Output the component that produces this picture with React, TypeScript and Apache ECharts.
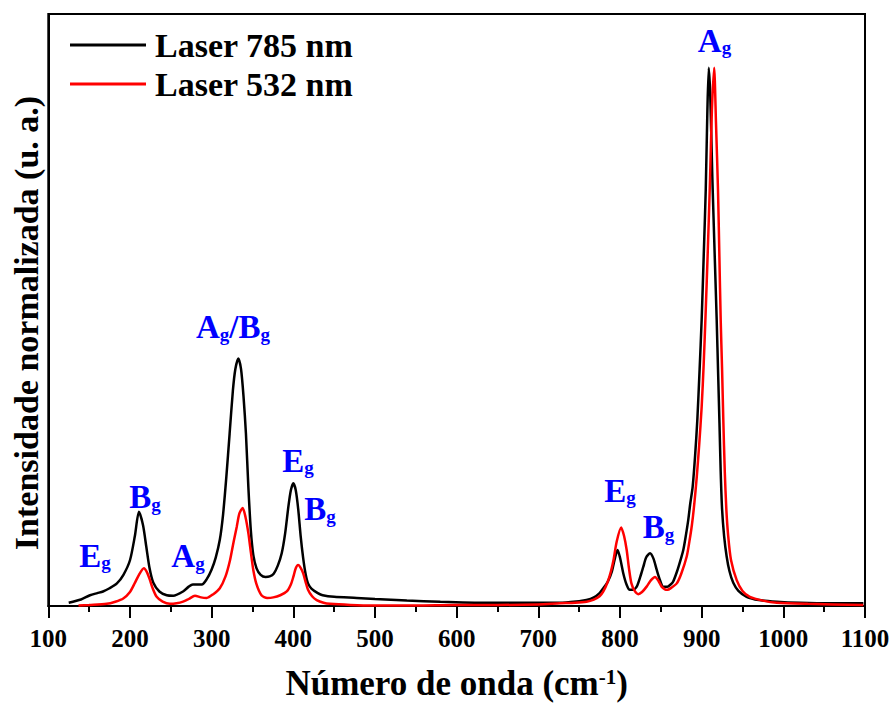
import React, { useEffect, useRef } from 'react';
import * as echarts from 'echarts';

// Raman spectra, normalized intensity (main peak = 1)
const laser785X = [125, 140, 151, 160, 167, 175, 184, 192, 200, 206, 211, 216, 220, 224, 228.6, 236, 245, 253, 265, 272, 277, 288, 294, 300, 305, 310, 314, 318, 322, 326, 329, 332.7, 336, 339, 342, 345, 348, 351, 355, 360, 366, 371, 376, 381, 385.8, 390, 394, 397, 400, 403, 406, 409, 412, 415, 418, 422.5, 430, 436, 450, 477.6, 500, 539, 580, 641, 700, 726.5, 750, 759, 768, 775, 779.6, 785, 790, 794, 797, 800, 804, 808, 812, 816, 820.5, 825, 828.6, 832, 836.8, 841, 845, 849, 853, 858, 862, 865, 870, 875, 877.5, 880, 883.6, 886, 889, 892, 894.7, 897.5, 900, 902.5, 905, 907, 908.7, 910.5, 913, 916, 918.4, 920.2, 921.8, 923.3, 925, 927.5, 930.6, 934, 938.7, 945, 955, 970, 991.8, 1020, 1060, 1098];
const laser785Y = [0.006, 0.012, 0.02, 0.024, 0.027, 0.033, 0.042, 0.058, 0.085, 0.13, 0.175, 0.15, 0.11, 0.07, 0.043, 0.027, 0.02, 0.019, 0.027, 0.036, 0.04, 0.04, 0.05, 0.068, 0.09, 0.123, 0.17, 0.24, 0.32, 0.4, 0.44, 0.46, 0.44, 0.39, 0.32, 0.22, 0.14, 0.095, 0.07, 0.058, 0.054, 0.055, 0.06, 0.075, 0.098, 0.135, 0.185, 0.215, 0.228, 0.215, 0.18, 0.13, 0.09, 0.06, 0.042, 0.032, 0.024, 0.02, 0.017, 0.015, 0.013, 0.01, 0.008, 0.006, 0.006, 0.006, 0.009, 0.011, 0.016, 0.024, 0.033, 0.045, 0.064, 0.09, 0.104, 0.09, 0.061, 0.04, 0.03, 0.03, 0.036, 0.055, 0.073, 0.09, 0.098, 0.088, 0.067, 0.048, 0.036, 0.036, 0.04, 0.045, 0.065, 0.09, 0.104, 0.125, 0.16, 0.19, 0.222, 0.28, 0.346, 0.44, 0.532, 0.65, 0.773, 0.92, 1.0, 0.95, 0.8, 0.65, 0.532, 0.43, 0.34, 0.25, 0.18, 0.13, 0.092, 0.065, 0.043, 0.028, 0.017, 0.011, 0.008, 0.006, 0.005, 0.005];

const laser532X = [137, 150, 171.5, 182, 191.8, 200, 206, 211, 217, 221, 224.5, 228, 232.7, 240, 249, 257, 265, 272, 279.6, 287, 294, 302, 310, 317, 322.5, 327, 330.7, 334, 338, 341.5, 345, 348, 351, 355, 361, 368, 375.5, 384, 392, 397, 400, 403, 406, 409, 412, 415, 418, 423, 428.6, 437, 445, 470, 497.6, 550, 600, 650, 700, 726.5, 745, 759, 768, 775, 779.6, 785, 789, 792, 796, 801.4, 805, 808.2, 811, 814, 818, 822.4, 827, 832.6, 838, 842.9, 847, 851, 855, 858, 863, 869.5, 875, 881.7, 885, 888, 891, 894, 897, 900, 902.5, 905, 907.5, 910.2, 912.5, 915.3, 917.5, 920, 921.7, 923.3, 925, 926.5, 928.3, 930.2, 932.5, 936, 942.9, 950, 959, 975, 992, 1030, 1098];
const laser532Y = [0.001, 0.002, 0.004, 0.008, 0.014, 0.026, 0.043, 0.058, 0.07, 0.062, 0.048, 0.032, 0.017, 0.008, 0.004, 0.005, 0.008, 0.013, 0.019, 0.016, 0.015, 0.022, 0.033, 0.055, 0.085, 0.12, 0.147, 0.172, 0.182, 0.165, 0.135, 0.1, 0.067, 0.04, 0.02, 0.015, 0.016, 0.02, 0.027, 0.04, 0.054, 0.07, 0.076, 0.071, 0.061, 0.045, 0.03, 0.018, 0.011, 0.006, 0.004, 0.002, 0.001, 0.001, 0.002, 0.002, 0.003, 0.005, 0.006, 0.008, 0.012, 0.018, 0.027, 0.045, 0.065, 0.085, 0.12, 0.146, 0.13, 0.104, 0.07, 0.042, 0.028, 0.022, 0.026, 0.036, 0.048, 0.054, 0.047, 0.036, 0.031, 0.03, 0.034, 0.042, 0.06, 0.092, 0.12, 0.15, 0.19, 0.24, 0.3, 0.37, 0.45, 0.55, 0.66, 0.79, 0.92, 1.0, 0.9, 0.773, 0.65, 0.532, 0.44, 0.346, 0.25, 0.18, 0.13, 0.085, 0.048, 0.028, 0.017, 0.01, 0.006, 0.004, 0.002];

// Peak assignments (label position in data coordinates)
const peakLabels = ['E_g', 'B_g', 'A_g', 'A_g/B_g', 'E_g', 'B_g', 'E_g', 'B_g', 'A_g'];
const peakLabelX = [157.2, 218.4, 271.1, 326.2, 405.8, 432.7, 800, 847.2, 915.7];
const peakLabelY = [0.093, 0.2017, 0.092, 0.5177, 0.2695, 0.18, 0.2138, 0.146, 1.05];

const xTicks = { min: 100, max: 1100, interval: 100 };
const seriesNames = ['Laser 785 nm', 'Laser 532 nm'];
const FONT = '"Liberation Serif", "Times New Roman", serif';
const BLUE = '#0000ff';

function zip(xs: number[], ys: number[]) {
  return xs.map((x, i) => [x, ys[i]]);
}

function toRich(label: string) {
  return label
    .split('/')
    .map((part) => {
      const [main, sub] = part.split('_');
      return `{m|${main}}` + (sub ? `{s|${sub}}` : '');
    })
    .join('{m|/}');
}

export default function App() {
  const ref = useRef<HTMLDivElement>(null);
  useEffect(() => {
    const chart = echarts.init(ref.current!, null, { renderer: 'svg' });
    chart.setOption({
      animation: false,
      backgroundColor: '#fff',
      grid: {
        left: 48.3,
        right: 28,
        top: 14,
        bottom: 100,
        show: true,
        borderColor: '#000',
        borderWidth: 2,
        backgroundColor: 'transparent',
      },
      legend: {
        data: seriesNames,
        orient: 'vertical',
        left: 70,
        top: 28,
        padding: 0,
        itemGap: 5,
        itemWidth: 76,
        itemHeight: 14,
        icon: 'path://M0,0 L76,0 L76,3 L0,3 Z',
        selectedMode: false,
        textStyle: {
          fontFamily: FONT,
          fontWeight: 'bold',
          fontSize: 34,
          color: '#000',
          padding: [0, 0, 0, 4],
        },
      },
      xAxis: {
        type: 'value',
        min: xTicks.min,
        max: xTicks.max,
        interval: xTicks.interval,
        name: '{t|Número de onda (cm}{p|-1}{t|)}',
        nameLocation: 'middle',
        nameGap: 60,
        nameTextStyle: {
          rich: {
            t: { fontFamily: FONT, fontWeight: 'bold', fontSize: 35, color: '#000', lineHeight: 35, verticalAlign: 'bottom' },
            p: { fontFamily: FONT, fontWeight: 'bold', fontSize: 21, color: '#000', lineHeight: 21, verticalAlign: 'top' },
          },
        },
        axisLine: { show: true, lineStyle: { color: '#000', width: 2 } },
        axisTick: { show: true, length: 12, lineStyle: { color: '#000', width: 2 } },
        minorTick: { show: true, splitNumber: 2, length: 6, lineStyle: { color: '#000', width: 2 } },
        splitLine: { show: false },
        axisLabel: {
          margin: 20,
          fontFamily: FONT,
          fontWeight: 'bold',
          fontSize: 25,
          color: '#000',
          formatter: (v: number) => String(v),
        },
      },
      yAxis: {
        type: 'value',
        min: 0,
        max: 1.1,
        axisLine: { show: true, lineStyle: { color: '#000', width: 2 } },
        axisTick: { show: false },
        axisLabel: { show: false },
        splitLine: { show: false },
      },
      graphic: [
        {
          type: 'text',
          x: 26,
          y: 323,
          rotation: Math.PI / 2,
          style: {
            text: 'Intensidade normalizada (u. a.)',
            fontFamily: FONT,
            fontWeight: 'bold',
            fontSize: 34,
            fill: '#000',
            align: 'center',
            verticalAlign: 'middle',
          },
        },
      ],
      series: [
        {
          name: seriesNames[0],
          type: 'line',
          data: zip(laser785X, laser785Y),
          showSymbol: false,
          symbol: 'none',
          smooth: 0.25,
          lineStyle: { color: '#000', width: 2.5 },
          itemStyle: { color: '#000' },
          z: 2,
        },
        {
          name: seriesNames[1],
          type: 'line',
          data: zip(laser532X, laser532Y),
          showSymbol: false,
          symbol: 'none',
          smooth: 0.25,
          lineStyle: { color: '#ff0000', width: 2.5 },
          itemStyle: { color: '#ff0000' },
          z: 3,
        },
        {
          name: 'peaks',
          type: 'scatter',
          silent: true,
          symbolSize: 0,
          itemStyle: { color: BLUE, opacity: 1 },
          z: 5,
          data: peakLabels.map((lab, i) => ({
            value: [peakLabelX[i], peakLabelY[i]],
            label: {
              show: true,
              position: 'inside',
              color: BLUE,
              opacity: 1,
              textBorderWidth: 0,
              textBorderColor: 'transparent',
              formatter: toRich(lab),
              rich: {
                m: { fontFamily: FONT, fontWeight: 'bold', fontSize: 33, color: BLUE, lineHeight: 33, verticalAlign: 'bottom', textBorderWidth: 0 },
                s: { fontFamily: FONT, fontWeight: 'bold', fontSize: 19, color: BLUE, lineHeight: 19, verticalAlign: 'bottom', textBorderWidth: 0 },
              },
            },
          })),
        },
      ],
    });
    return () => chart.dispose();
  }, []);
  return (
    <div
      ref={ref}
      style={{ position: 'fixed', left: 0, top: 0, width: 893, height: 706, background: '#fff' }}
    />
  );
}
